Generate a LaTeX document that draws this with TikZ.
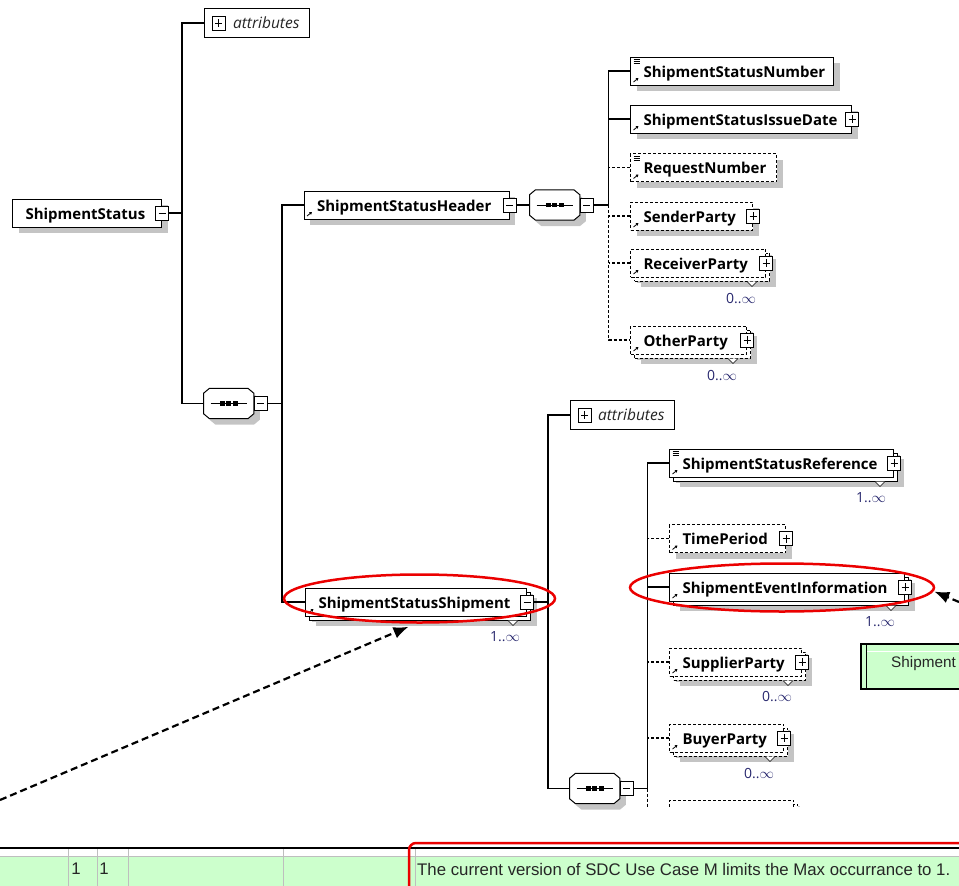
\documentclass[tikz,border=0pt]{standalone}
\usepackage{fontspec}
\usetikzlibrary{shapes.geometric,shadows,arrows.meta}
\setmainfont{Open Sans}
\newfontfamily\sheetfont{Liberation Sans}

\definecolor{shadowgray}{RGB}{196,196,196}
\definecolor{occurcolor}{RGB}{40,40,110}
\definecolor{rowgreen}{RGB}{204,255,204}
\definecolor{gridgray}{RGB}{190,190,190}
\definecolor{markred}{RGB}{235,0,0}

\tikzset{
    elem/.style={draw, fill=white, anchor=west, line width=1pt, minimum height=28pt,
        inner xsep=13pt, align=left, font=\fontsize{15}{17}\selectfont\bfseries,
        text height=14pt, text depth=1.5pt,
        general shadow={fill=shadowgray, shadow xshift=6pt, shadow yshift=-6pt}},
    multi/.style={general shadow={fill=shadowgray, shadow xshift=10pt, shadow yshift=-10pt},
        general shadow={draw, fill=white, shadow xshift=4pt, shadow yshift=-4pt}},
    opt/.style={dash pattern=on 3pt off 2pt},
    ref/.style={path picture={
        \draw[solid, line width=0.8pt, -{Triangle[length=2.5pt, width=3pt]}]
            ([xshift=3pt, yshift=3pt]path picture bounding box.south west) -- ++(5pt, 4pt);}},
    simple/.style={path picture={
        \draw[solid, line width=0.8pt, -{Triangle[length=2.5pt, width=3pt]}]
            ([xshift=3pt, yshift=3pt]path picture bounding box.south west) -- ++(5pt, 4pt);
        \foreach \k in {2.5,4.5,6.5}
            \draw[solid, line width=0.7pt] ([xshift=3pt, yshift=-\k pt]path picture bounding box.north west) -- ++(6pt, 0);}},
    attrbox/.style={draw, fill=white, anchor=west, line width=1pt, minimum height=29pt,
        inner xsep=10pt, align=right, font=\fontsize{15.5}{17}\selectfont\itshape, text=black!85,
        text height=13pt, text depth=2pt},
    pmbox/.style={draw, solid, fill=white, line width=0.9pt, minimum width=13pt, minimum height=14pt, inner sep=0pt},
    plusbox/.style={pmbox, path picture={
        \draw ([yshift=-3pt]path picture bounding box.north) -- ([yshift=3pt]path picture bounding box.south)
              ([xshift=3pt]path picture bounding box.west) -- ([xshift=-3pt]path picture bounding box.east);}},
    minusbox/.style={pmbox, path picture={
        \draw ([xshift=3pt]path picture bounding box.west) -- ([xshift=-3pt]path picture bounding box.east);}},
    seqbox/.style={minimum width=50pt, minimum height=30pt, inner sep=0pt, anchor=west},
    octagon/.style={draw, fill=white, line width=1pt,
        general shadow={fill=shadowgray, shadow xshift=6pt, shadow yshift=-6pt}},
    tree/.style={line width=1.2pt},
    occurs/.style={text=occurcolor, font=\fontsize{14}{16}\selectfont, inner sep=0pt},
    redring/.style={ellipse, draw=markred, line width=2.5pt, inner sep=0pt},
    hint/.style={line width=2.2pt, dash pattern=on 7pt off 4pt, -{Latex[length=15pt, width=12pt]}},
    cell/.style={font=\sheetfont\fontsize{16.8}{19}\selectfont, inner sep=0pt, text=black!85}
}

\begin{document}
\begin{tikzpicture}[x=1pt, y=-1pt]
    \useasboundingbox (0,0) rectangle (959,886);
    \clip (0,0) rectangle (959,886);

    \node[elem, text width=123pt] (ss) at (12,213) {ShipmentStatus};
    \node[minusbox] (ss-m) at (ss.east) {};
    \node[attrbox, text width=85.5pt] (attr1) at (203.5,23) {attributes};
    \node[plusbox] (attr1-p) at ([xshift=15pt]attr1.west) {};
    \node[seqbox] (seq1) at (203.5,403.5) {};

    \node[elem, ref, text width=179pt] (head) at (303.5,205) {ShipmentStatusHeader};
    \node[minusbox] (head-m) at (head.east) {};
    \node[seqbox] (seq2) at (529.5,205) {};

    \node[elem, simple, text width=177pt] (ssnum) at (630,71) {ShipmentStatusNumber};
    \node[elem, ref, text width=195pt] (ssdate) at (630,119) {ShipmentStatusIssueDate};
    \node[plusbox] (ssdate-p) at (ssdate.east) {};
    \node[elem, simple, opt, text width=120pt] (reqno) at (630,167.5) {RequestNumber};
    \node[elem, ref, opt, text width=96pt] (sender) at (630,216) {SenderParty};
    \node[plusbox] (sender-p) at (sender.east) {};
    \node[elem, ref, opt, multi, text width=109pt] (receiver) at (630,263) {ReceiverParty};
    \node[plusbox] (receiver-p) at (receiver.east) {};
    \draw[fill=white] ([xshift=-19pt, yshift=-4pt]receiver.south east) -- ++(5pt,-5pt) -- ++(5pt,5pt);
    \node[occurs] (receiver-o) at ([xshift=-25pt, yshift=-21pt]receiver.south east) {0..$\infty$};
    \node[elem, ref, opt, multi, text width=90pt] (other) at (630,340) {OtherParty};
    \node[plusbox] (other-p) at (other.east) {};
    \draw[fill=white] ([xshift=-19pt, yshift=-4pt]other.south east) -- ++(5pt,-5pt) -- ++(5pt,5pt);
    \node[occurs] (other-o) at ([xshift=-25pt, yshift=-21pt]other.south east) {0..$\infty$};

    \node[elem, ref, multi, text width=195pt] (ship) at (305,602) {ShipmentStatusShipment};
    \node[minusbox] (ship-m) at (ship.east) {};
    \draw[fill=white] ([xshift=-19pt, yshift=-4pt]ship.south east) -- ++(5pt,-5pt) -- ++(5pt,5pt);
    \node[occurs] (ship-o) at ([xshift=-22pt, yshift=-20pt]ship.south east) {1..$\infty$};
    \node[attrbox, text width=84.5pt] (attr2) at (569.5,415) {attributes};
    \node[plusbox] (attr2-p) at ([xshift=15pt]attr2.west) {};
    \node[seqbox] (seq3) at (569.5,788.5) {};

    \node[elem, simple, multi, text width=198pt] (ssref) at (669,463) {ShipmentStatusReference};
    \node[plusbox] (ssref-p) at (ssref.east) {};
    \draw[fill=white] ([xshift=-19pt, yshift=-4pt]ssref.south east) -- ++(5pt,-5pt) -- ++(5pt,5pt);
    \node[occurs] (ssref-o) at ([xshift=-23pt, yshift=-20pt]ssref.south east) {1..$\infty$};
    \node[elem, ref, opt, text width=90pt] (timep) at (669,538.5) {TimePeriod};
    \node[plusbox] (timep-p) at (timep.east) {};
    \node[elem, ref, multi, text width=209pt] (sevent) at (669,587) {ShipmentEventInformation};
    \node[plusbox] (sevent-p) at (sevent.east) {};
    \draw[fill=white] ([xshift=-19pt, yshift=-4pt]sevent.south east) -- ++(5pt,-5pt) -- ++(5pt,5pt);
    \node[occurs] (sevent-o) at ([xshift=-25pt, yshift=-20pt]sevent.south east) {1..$\infty$};
    \node[elem, ref, opt, multi, text width=106pt] (supplier) at (669,662) {SupplierParty};
    \node[plusbox] (supplier-p) at (supplier.east) {};
    \draw[fill=white] ([xshift=-19pt, yshift=-4pt]supplier.south east) -- ++(5pt,-5pt) -- ++(5pt,5pt);
    \node[occurs] (supplier-o) at ([xshift=-25pt, yshift=-20pt]supplier.south east) {0..$\infty$};
    \node[elem, ref, opt, multi, text width=88pt] (buyer) at (669,738) {BuyerParty};
    \node[plusbox] (buyer-p) at (buyer.east) {};
    \draw[fill=white] ([xshift=-19pt, yshift=-4pt]buyer.south east) -- ++(5pt,-5pt) -- ++(5pt,5pt);
    \node[occurs] (buyer-o) at ([xshift=-25pt, yshift=-21pt]buyer.south east) {0..$\infty$};

    \foreach \s in {seq1,seq2,seq3} {
        \draw[octagon] ([xshift=6pt]\s.north west) -- ([xshift=-6pt]\s.north east) -- ([yshift=-5pt]\s.north east)
            -- ([yshift=5pt]\s.south east) -- ([xshift=-6pt]\s.south east) -- ([xshift=6pt]\s.south west)
            -- ([yshift=5pt]\s.south west) -- ([yshift=-5pt]\s.north west) -- cycle;
        \draw[line width=1pt] ([xshift=7pt]\s.west) -- ([xshift=-7pt]\s.east);
        \foreach \k in {-6.5,0,6.5}
            \fill ([xshift=\k pt]\s.center) +(-2.3pt,-2.3pt) rectangle +(2.3pt,2.3pt);
    }
    \node[minusbox] (seq1-m) at ([xshift=7pt]seq1.east) {};
    \node[minusbox] (seq2-m) at ([xshift=7pt]seq2.east) {};
    \node[minusbox] (seq3-m) at ([xshift=7pt]seq3.east) {};

    \coordinate (t1) at (182,213);
    \coordinate (t2) at (282,403.5);
    \coordinate (t3) at (608.5,205);
    \coordinate (t4) at (548,602);
    \coordinate (t5) at (647.5,788.5);

    \begin{scope}
        \clip (560,780) rectangle (959,806);
        \node[elem, ref, opt, multi, text width=98pt] (next) at (669,814) {};
        \node[plusbox] (next-p) at (next.east) {};
        \draw[tree, opt] (t5) -- ++(0,30);
    \end{scope}

    \draw[tree] (ss-m.east) -- (t1);
    \draw[tree] (attr1.west) -| (t1) |- (seq1.west);
    \draw[tree] (seq1-m.east) -- (t2);
    \draw[tree] (head.west) -| (t2) |- (ship.west);

    \draw[tree] (head-m.east) -- (seq2.west);
    \draw[tree] (seq2-m.east) -- (t3);
    \draw[tree] (ssnum.west) -| (t3);
    \draw[tree] (ssdate.west) -- (ssdate.west -| t3);
    \draw[tree, opt] (reqno.west) -- (reqno.west -| t3);
    \draw[tree, opt] (t3) |- (other.west);
    \draw[tree, opt] (sender.west) -- (sender.west -| t3);
    \draw[tree, opt] (receiver.west) -- (receiver.west -| t3);

    \draw[tree] (ship-m.east) -- (t4);
    \draw[tree] (attr2.west) -| (t4) |- (seq3.west);
    \draw[tree] (seq3-m.east) -- (t5);
    \draw[tree] (ssref.west) -| (t5);
    \draw[tree] (sevent.west) -- (sevent.west -| t5);
    \draw[tree, opt] (timep.west) -- (timep.west -| t5);
    \draw[tree, opt] (supplier.west) -- (supplier.west -| t5);
    \draw[tree, opt] (buyer.west) -- (buyer.west -| t5);

    \node[draw, line width=1.5pt, fill=rowgreen, anchor=north west, minimum width=130pt, minimum height=45pt] (evnote) at (860,643) {};
    \draw[line width=1pt] ([xshift=6.5pt]evnote.north west) -- ([xshift=6.5pt]evnote.south west);
    \draw[white, line width=1pt] ([xshift=7pt, yshift=-8pt]evnote.north west) -- ([yshift=-8pt]evnote.north east);
    \node[cell, anchor=west, font=\sheetfont\fontsize{15.3}{18}\selectfont] (evtext) at (891,664) {Shipment};

    \node[redring, minimum width=271pt, minimum height=48pt] (hl1) at (419.5,598.5) {};
    \node[redring, minimum width=304pt, minimum height=48pt] (hl2) at (782,587.5) {};
    \coordinate (from1) at (0,800);
    \coordinate (from2) at (959,602);
    \draw[hint] (from1) -- ([xshift=-11pt, yshift=-3pt]hl1.south);
    \draw[hint] (from2) -- ([xshift=-1pt, yshift=-4pt]hl2.east);

    \fill[rowgreen] (0,856) rectangle (959,886);
    \draw[gridgray] (0,856) -- (959,856);
    \foreach \x in {68,97,128,283,415}
        \draw[gridgray] (\x,849) -- (\x,886);
    \draw[line width=1.5pt] (0,848) -- (959,848);
    \node[cell] (minocc) at (76,869) {1};
    \node[cell] (maxocc) at (104,869) {1};
    \node[cell, anchor=west] (note) at (417,869) {The current version of SDC Use Case M limits the Max occurrance to 1.};
    \draw[markred, line width=2.5pt, rounded corners=7pt] (409,843) rectangle (990,895);
\end{tikzpicture}
\end{document}
